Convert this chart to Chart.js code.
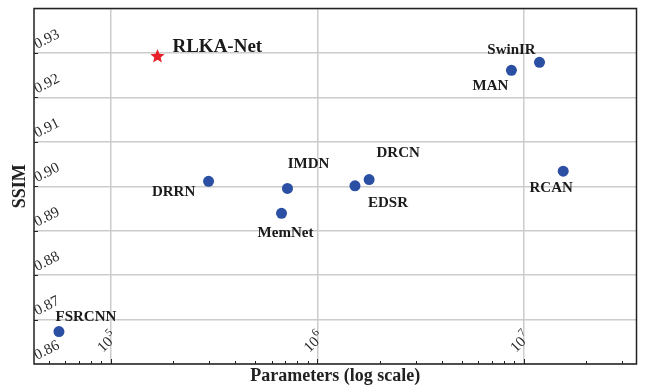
<!DOCTYPE html>
<html>
<head>
<meta charset="utf-8">
<script src="https://cdn.jsdelivr.net/npm/chart.js@4/dist/chart.umd.min.js"></script>
<style>
  html, body { margin: 0; padding: 0; background: #fff; }
  canvas { display: block; }
</style>
</head>
<body>
<canvas id="tradeoffChart" width="645" height="387"></canvas>
<script>
const models = ['FSRCNN', 'DRRN', 'MemNet', 'IMDN', 'EDSR', 'DRCN', 'MAN', 'SwinIR', 'RCAN'];
const modelParams = [5.6e4, 2.97e5, 6.7e5, 7.16e5, 1.52e6, 1.78e6, 8.7e6, 1.19e7, 1.55e7];
const modelSsim = [0.8673, 0.9011, 0.8939, 0.8995, 0.9001, 0.9015, 0.9261, 0.9279, 0.9034];

const oursName = 'RLKA-Net';
const oursParams = [1.68e5];
const oursSsim = [0.9292];

const xRange = [42400, 3.51e7];
const yRange = [0.86, 0.94];
const yStep = 0.01;

// label placement around each point (px, label centre relative to the marker)
const labelDx = [27, -35, 4, 21, 33, 29, -21, -28, -12];
const labelDy = [-14, 11, 20, -24, 17, -26, 16, -12, 17];

const SERIF = '"Liberation Serif", "Times New Roman", serif';
const BLUE = '#2a4fa3';
const RED = '#e8202a';
const GRID = '#cccccc';

function makeStar(r, color) {
  const c = document.createElement('canvas');
  c.width = c.height = Math.ceil(r * 2) + 2;
  const g = c.getContext('2d');
  const mid = c.width / 2;
  g.beginPath();
  for (let i = 0; i < 10; i++) {
    const a = -Math.PI / 2 + i * Math.PI / 5;
    const rr = i % 2 ? r * 0.44 : r;
    g.lineTo(mid + rr * Math.cos(a), mid + rr * Math.sin(a));
  }
  g.closePath();
  g.fillStyle = color;
  g.fill();
  return c;
}

function mantissa(v) {
  return v / Math.pow(10, Math.floor(Math.log10(v) + 1e-9));
}
function isWhole(m) { return Math.abs(m - Math.round(m)) < 1e-6; }
function isDecade(v) { return Math.abs(mantissa(v) - 1) < 1e-6; }

const framePlugin = {
  id: 'frame',
  afterDraw(chart) {
    const { ctx, chartArea: a, scales } = chart;
    const xs = scales.x, ys = scales.y;
    ctx.save();

    // tick marks, inside
    ctx.strokeStyle = '#222';
    ctx.lineWidth = 1;
    ys.ticks.forEach(t => {
      if (t.value <= yRange[0] + 1e-9 || t.value >= yRange[1] - 1e-9) return;
      const py = Math.round(ys.getPixelForValue(t.value)) + 0.5;
      ctx.beginPath(); ctx.moveTo(a.left, py); ctx.lineTo(a.left + 4, py); ctx.stroke();
    });
    xs.ticks.forEach(t => {
      const px = Math.round(xs.getPixelForValue(t.value)) + 0.5;
      const len = isDecade(t.value) ? 5 : 3;
      ctx.beginPath(); ctx.moveTo(px, a.bottom); ctx.lineTo(px, a.bottom - len); ctx.stroke();
    });

    // frame
    ctx.lineWidth = 1.5;
    ctx.strokeStyle = '#222';
    ctx.strokeRect(a.left, a.top, a.right - a.left, a.bottom - a.top);

    // y tick labels, rotated inside the plot
    ctx.fillStyle = '#2a2a2a';
    ctx.font = `15px ${SERIF}`;
    ctx.textAlign = 'left';
    ctx.textBaseline = 'alphabetic';
    ys.ticks.forEach(t => {
      if (t.value >= yRange[1] - 1e-9) return;
      const py = ys.getPixelForValue(t.value);
      ctx.save();
      ctx.translate(a.left + 3, py - 4);
      ctx.rotate(-27 * Math.PI / 180);
      ctx.fillText(t.value.toFixed(2), 0, 0);
      ctx.restore();
    });

    // x tick labels 10^n
    xs.ticks.forEach(t => {
      if (!isDecade(t.value)) return;
      const px = xs.getPixelForValue(t.value);
      const exp = String(Math.round(Math.log10(t.value)));
      ctx.save();
      ctx.translate(px - 8, 353);
      ctx.rotate(-45 * Math.PI / 180);
      ctx.font = `15px ${SERIF}`;
      ctx.fillText('10', 0, 0);
      const w = ctx.measureText('10').width;
      ctx.font = `11px ${SERIF}`;
      ctx.fillText(exp, w + 1, -7);
      ctx.restore();
    });
    ctx.restore();
  },
  afterDatasetsDraw(chart) {
    const { ctx } = chart;
    ctx.save();
    ctx.fillStyle = '#1a1a1a';
    ctx.textBaseline = 'middle';
    ctx.font = `bold 15px ${SERIF}`;
    ctx.textAlign = 'center';
    chart.getDatasetMeta(0).data.forEach((pt, i) => {
      ctx.fillText(models[i], pt.x + labelDx[i], pt.y + labelDy[i]);
    });
    const star = chart.getDatasetMeta(1).data[0];
    ctx.font = `bold 19px ${SERIF}`;
    ctx.textAlign = 'left';
    ctx.fillText(oursName, star.x + 15, star.y - 9);
    ctx.restore();
  }
};

function drawTradeoffChart() {
  const ctx = document.getElementById('tradeoffChart').getContext('2d');
  new Chart(ctx, {
    type: 'scatter',
    data: {
      datasets: [
        {
          label: 'Others',
          data: models.map((m, i) => ({ x: modelParams[i], y: modelSsim[i] })),
          backgroundColor: BLUE,
          borderWidth: 0,
          pointRadius: 5.5,
          pointHoverRadius: 5.5
        },
        {
          label: oursName,
          data: oursParams.map((p, i) => ({ x: p, y: oursSsim[i] })),
          pointStyle: makeStar(7.5, RED),
          pointRadius: 7.5
        }
      ]
    },
    options: {
      responsive: false,
      devicePixelRatio: 1,
      animation: false,
      layout: { padding: { left: 0, top: 8, right: 8, bottom: 0 } },
      plugins: { legend: { display: false }, tooltip: { enabled: false } },
      scales: {
        x: {
          type: 'logarithmic',
          min: xRange[0],
          max: xRange[1],
          afterBuildTicks: s => { s.ticks = s.ticks.filter(t => isWhole(mantissa(t.value))); },
          ticks: { display: false },
          border: { display: false },
          grid: {
            drawTicks: false,
            lineWidth: 1.5,
            color: c => (c.tick && isDecade(c.tick.value) ? GRID : 'rgba(0,0,0,0)')
          },
          title: {
            display: true,
            text: 'Parameters (log scale)',
            color: '#222',
            font: { family: SERIF, size: 18, weight: 'bold' },
            padding: { top: 1.4, bottom: 0 }
          }
        },
        y: {
          min: yRange[0],
          max: yRange[1],
          ticks: { display: false, stepSize: yStep },
          border: { display: false },
          grid: { drawTicks: false, lineWidth: 1.5, color: GRID },
          title: {
            display: true,
            text: 'SSIM',
            color: '#222',
            font: { family: SERIF, size: 18, weight: 'bold' },
            padding: { top: 9.2, bottom: 3.2 }
          }
        }
      }
    },
    plugins: [framePlugin]
  });
}

drawTradeoffChart();
</script>
</body>
</html>
